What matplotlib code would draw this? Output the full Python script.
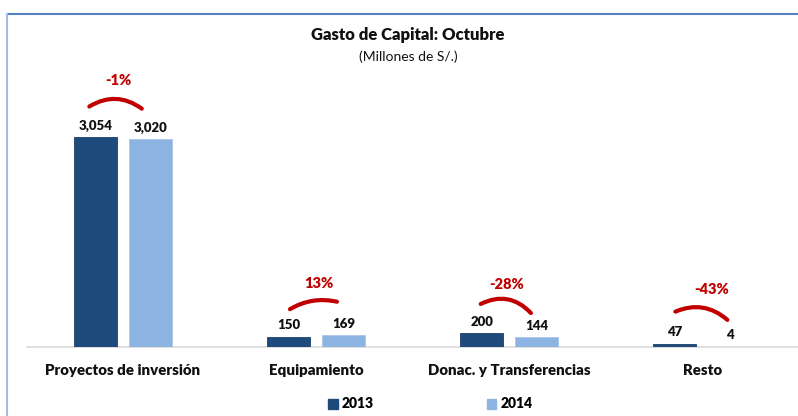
import matplotlib
matplotlib.use("Agg")
import matplotlib.pyplot as plt
from matplotlib.patches import FancyArrowPatch, Rectangle
from matplotlib.lines import Line2D
from matplotlib.transforms import IdentityTransform

plt.rcParams["font.family"] = ["Lato", "DejaVu Sans"]

# Data (millones de S/.)
categories = ["Proyectos de inversión", "Equipamiento", "Donac. y Transferencias", "Resto"]
values_2013 = [3054, 150, 200, 47]
values_2014 = [3020, 169, 144, 4]
pct_labels = ["-1%", "13%", "-28%", "-43%"]
years = ["2013", "2014"]

C2013 = "#1f4a7c"
C2014 = "#8db3e2"
RED = "#c00000"

W, H = 798, 416
fig = plt.figure(figsize=(W / 100, H / 100), dpi=100)

# axes placed in pixel terms: baseline at y=347 px, left edge at x=27 px
ax_left, ax_right = 27, 798
ax_base, ax_top = 347, 30
ax = fig.add_axes([ax_left / W, (H - ax_base) / H, (ax_right - ax_left) / W, (ax_base - ax_top) / H])

x = list(range(len(categories)))
bw = 0.223
off = 0.1425
ymax = (ax_base - ax_top) / 0.06876
ax.set_xlim(-0.497, 3.495)
ax.set_ylim(0, ymax)

x13 = [i - off for i in x]
x14 = [i + off for i in x]
ax.bar(x13, values_2013, width=bw, color=C2013, edgecolor="#1a3f6b", linewidth=0.6, zorder=3)
ax.bar(x14, values_2014, width=bw, color=C2014, edgecolor="#a9c6ea", linewidth=0.6, zorder=3)

for xs, vals in ((x13, values_2013), (x14, values_2014)):
    for xi, v in zip(xs, vals):
        ax.annotate(f"{v:,}", (xi, v), xytext=(0, 8.3), textcoords="offset points",
                    ha="center", va="center", fontsize=9.5, fontweight="heavy", color="#111111")

for s in ("top", "right", "left"):
    ax.spines[s].set_visible(False)
ax.spines["bottom"].set_color("#d9d9d9")
ax.spines["bottom"].set_linewidth(1.2)
ax.set_yticks([])
ax.set_xticks(x)
ax.set_xticklabels(categories, fontsize=10.8, fontweight="heavy", color="#111111")
ax.tick_params(axis="x", length=0, pad=12)

# variation arcs and percentage labels (pixel offsets relative to bar tops)
arc_offsets = [((-8.5, 29), (-6.5, 29), -0.36),
               ((-1, 26), (-4, 33), -0.22),
               ((-3.5, 28), (-4, 22), -0.40),
               ((-2, 31), (-0.5, 25), -0.34)]
pct_offsets = [(-4.5, 57), (3, 52), (-2.5, 49), (9.5, 54)]

fig.canvas.draw()
to_disp = ax.transData.transform
for i in x:
    (a_dx, a_dy), (b_dx, b_dy), rad = arc_offsets[i]
    ax_, ay_ = to_disp((x13[i], values_2013[i]))
    bx_, by_ = to_disp((x14[i], values_2014[i]))
    arc = FancyArrowPatch((ax_ + a_dx, ay_ + a_dy), (bx_ + b_dx, by_ + b_dy),
                          connectionstyle=f"arc3,rad={rad}", arrowstyle="-",
                          color=RED, linewidth=3.0, capstyle="round",
                          transform=IdentityTransform(), zorder=4)
    fig.add_artist(arc)
    top = max(values_2013[i], values_2014[i])
    dx, dy = pct_offsets[i]
    ax.annotate(pct_labels[i], (i, top), xytext=(dx * 0.72, dy * 0.72), textcoords="offset points",
                ha="center", va="center", fontsize=10.5, fontweight="heavy", color=RED)

# title block
fig.text(408 / W, 1 - 35 / H, "Gasto de Capital: Octubre", ha="center", va="center",
         fontsize=12, fontweight="heavy", color="#111111")
fig.text(408 / W, 1 - 57 / H, "(Millones de S/.)", ha="center", va="center",
         fontsize=10, color="#111111")

# frame lines
fig.add_artist(Line2D([7 / W, 1], [1 - 14 / H, 1 - 14 / H], color="#4f81bd", linewidth=1.5,
                      transform=fig.transFigure))
fig.add_artist(Line2D([7 / W, 7 / W], [0, 1 - 14 / H], color="#9fbde2", linewidth=1.5,
                      transform=fig.transFigure))

# legend
handles = [Rectangle((0, 0), 1, 1, color=C2013), Rectangle((0, 0), 1, 1, color=C2014)]
leg = fig.legend(handles, years, loc="center", bbox_to_anchor=(430.5 / W, 1 - 404 / H), ncol=2,
                 frameon=False, handlelength=0.7, handleheight=0.7, handletextpad=0.3,
                 columnspacing=8.1, prop={"weight": "heavy", "size": 10})

fig.savefig("out.png", dpi=100)
